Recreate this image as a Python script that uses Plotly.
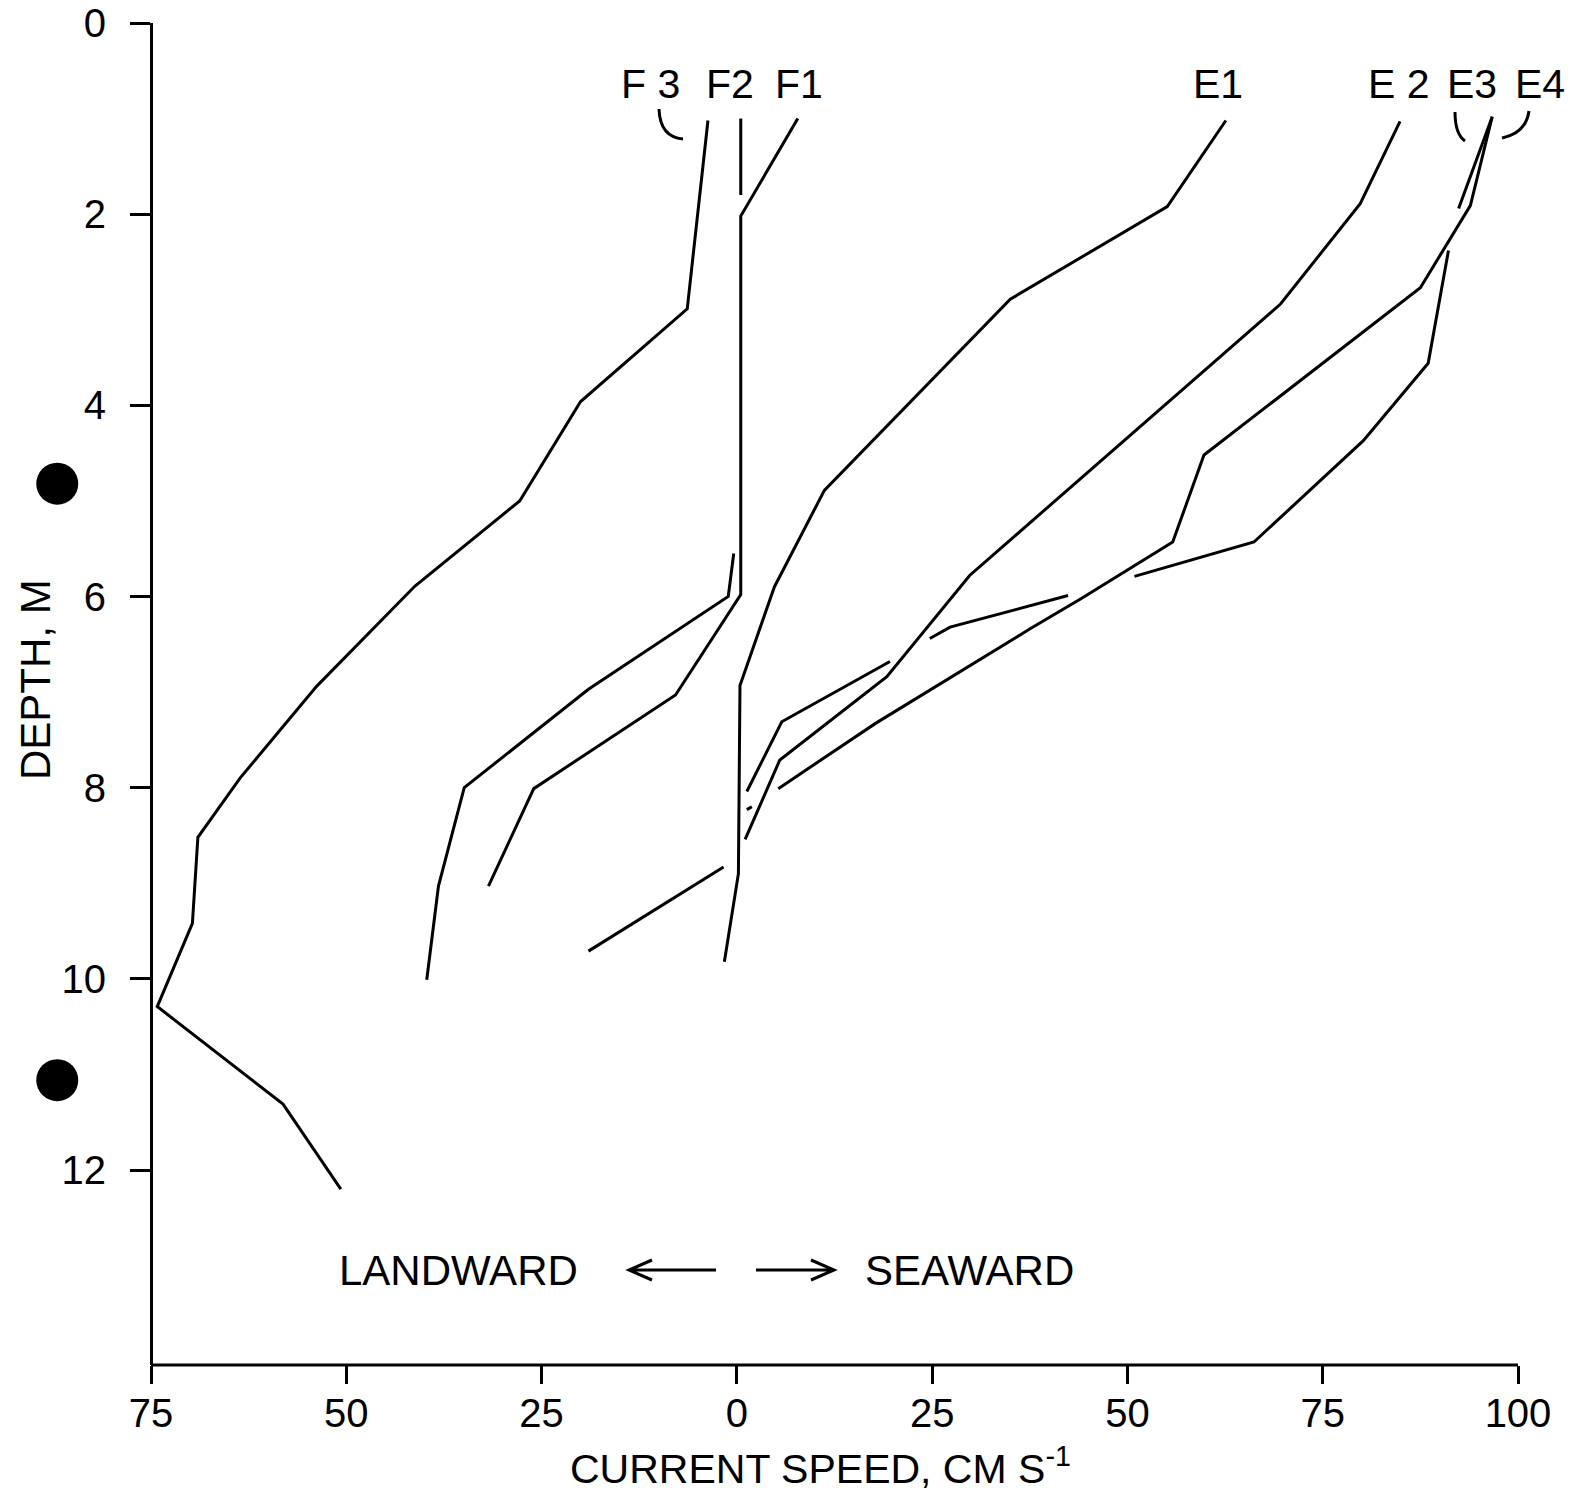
import plotly.graph_objects as go

# ---- data: current speed (cm/s; negative = landward) vs depth (m) ----
f1_speed = [7.8, 0.5, 0.5, -7.85, -26.0, -31.8]
f1_depth = [1.0, 2.02, 5.98, 7.03, 8.01, 9.03]

f2_speed = [0.5, 0.5, None, -0.4, -1.1, -19.0, -34.9, -38.2, -39.7]
f2_depth = [1.0, 1.8, None, 5.55, 6.0, 6.97, 8.0, 9.03, 10.01]

f3_speed = [-3.7, -6.35, -20.0, -27.8, -41.2, -53.8, -63.6, -69.0, -69.7, -74.2, -58.1, -50.7]
f3_depth = [1.02, 2.99, 3.96, 5.0, 5.89, 6.94, 7.90, 8.52, 9.42, 10.29, 11.31, 12.2]

e1_speed = [62.6, 55.1, 35.0, 11.2, 4.8, 0.4, 0.2, -1.6]
e1_depth = [1.02, 1.92, 2.89, 4.89, 5.9, 6.93, 8.9, 9.82]

e2_speed = [84.9, 79.8, 69.6, 29.8, 19.2, 5.5, 1.06, None, -1.7, -19.0]
e2_depth = [1.03, 1.89, 2.94, 5.78, 6.84, 7.71, 8.54, None, 8.83, 9.71]

e3_speed = [96.7, 92.4, None, 91.1, 88.5, 80.2, 66.2, 50.9, None, 42.4, 27.3, 24.7,
            None, 19.6, 5.75, 1.28, None, 1.28, 1.92]
e3_depth = [0.98, 1.94, None, 2.38, 3.56, 4.37, 5.43, 5.79, None, 5.99, 6.32, 6.44,
            None, 6.68, 7.31, 8.04, None, 8.23, 8.20]

e4_speed = [96.7, 93.9, 87.5, 59.8, 55.8, 44.1, 37.7, 17.7, 5.3]
e4_depth = [0.98, 1.91, 2.77, 4.52, 5.43, 6.02, 6.33, 7.33, 8.01]

dot_speed = [-87.0, -87.0]
dot_depth = [4.82, 11.06]

x_tickvals = [-75, -50, -25, 0, 25, 50, 75, 100]
x_ticktext = ["75", "50", "25", "0", "25", "50", "75", "100"]
y_tickvals = [0, 2, 4, 6, 8, 10, 12]

series = [
    ("F1", f1_speed, f1_depth),
    ("F2", f2_speed, f2_depth),
    ("F3", f3_speed, f3_depth),
    ("E1", e1_speed, e1_depth),
    ("E2", e2_speed, e2_depth),
    ("E3", e3_speed, e3_depth),
    ("E4", e4_speed, e4_depth),
]

FONT = "Liberation Sans, Arial, sans-serif"
OFF = 8                      # page body margin added by the browser
W, H = 1578 - OFF, 1496 - OFF
AX_L, AX_R, AX_T, AX_B = 151, 1518, 23, 1365     # axis box in page pixels
L, T = 20, AX_T - OFF
R = W - (AX_R - OFF)
B = H - (AX_B - OFF)
PW, PH = W - L - R, H - T - B
XMIN, XMAX = -75, 100
scale = (AX_R - AX_L) / (XMAX - XMIN)
dom0 = (AX_L - OFF - L) / PW
xlo = XMIN - (AX_L - OFF - L) / scale


def px(xp):
    return (xp - OFF - L) / PW


def py(yp):
    return (H - B - (yp - OFF)) / PH


fig = go.Figure()
for name, xs, ys in series:
    fig.add_trace(go.Scatter(x=xs, y=ys, mode="lines", name=name,
                             line=dict(color="black", width=3),
                             connectgaps=False, cliponaxis=False))

fig.add_trace(go.Scatter(x=dot_speed, y=dot_depth, mode="markers", name="dots",
                         marker=dict(color="black", size=42), cliponaxis=False))

fig.update_layout(
    width=W, height=H,
    margin=dict(l=L, r=R, t=T, b=B, autoexpand=False),
    plot_bgcolor="white", paper_bgcolor="white",
    showlegend=False,
    font=dict(family=FONT, size=40, color="black"),
    xaxis=dict(range=[xlo, XMAX], tickvals=x_tickvals,
               ticktext=x_ticktext, ticks="outside", ticklen=18, tickwidth=3,
               tickcolor="black", showline=False, ticklabeloverflow="allow",
               automargin=False, showgrid=False, zeroline=False,
               ticklabelstandoff=-5, tickfont=dict(size=40)),
    yaxis=dict(range=[14.04, 0], tickvals=y_tickvals, anchor="free", position=dom0,
               ticks="outside", ticklen=20, tickwidth=3, tickcolor="black",
               showline=True, linewidth=3, linecolor="black", automargin=False,
               showgrid=False, zeroline=False, ticklabelstandoff=16,
               ticklabeloverflow="allow", tickfont=dict(size=40)),
)

ann = []
labels = [("F 3", 650), ("F2", 730), ("F1", 799), ("E1", 1218),
          ("E 2", 1399), ("E3", 1472), ("E4", 1540)]
for txt, xp in labels:
    ann.append(dict(text=txt, xref="paper", yref="paper", x=px(xp), y=py(84),
                    xanchor="center", yanchor="middle", showarrow=False,
                    font=dict(size=41)))

ann.append(dict(text="LANDWARD", xref="paper", yref="paper", x=px(458), y=py(1270),
                xanchor="center", yanchor="middle", showarrow=False, font=dict(size=42)))
ann.append(dict(text="SEAWARD", xref="paper", yref="paper", x=px(970), y=py(1270),
                xanchor="center", yanchor="middle", showarrow=False, font=dict(size=42)))
ann.append(dict(text="DEPTH, M", xref="paper", yref="paper", x=px(35), y=py(680),
                textangle=-90, xanchor="center", yanchor="middle", showarrow=False,
                font=dict(size=42)))
ann.append(dict(text="CURRENT SPEED, CM S<sup>-1</sup>", xref="paper", yref="paper",
                x=px(820), y=py(1494), xanchor="center", yanchor="bottom",
                showarrow=False, font=dict(size=41)))
fig.update_layout(annotations=ann)


def pth(d):
    return dict(type="path", xref="paper", yref="paper", path=d,
                line=dict(color="black", width=3))


def arc(p0, c, p1):
    return pth(f"M {px(p0[0])},{py(p0[1])} Q {px(c[0])},{py(c[1])} {px(p1[0])},{py(p1[1])}")


def arrow(x_tail, x_head, y, hx, hy):
    d = 1 if x_head > x_tail else -1
    return pth(f"M {px(x_tail)},{py(y)} L {px(x_head)},{py(y)} "
               f"M {px(x_head - d * hx)},{py(y - hy)} L {px(x_head)},{py(y)} "
               f"L {px(x_head - d * hx)},{py(y + hy)}")


fig.update_layout(shapes=[
    # x-axis baseline (from 75 landward to 100 seaward)
    dict(type="line", xref="paper", yref="paper", x0=dom0, x1=1, y0=0, y1=0,
         line=dict(color="black", width=3)),
    arc((659, 109), (660, 137), (683, 139)),
    arc((1455, 112), (1455, 134), (1465, 141)),
    arc((1529, 111), (1526, 133), (1502, 138)),
    arrow(716, 629, 1270, 23, 10),
    arrow(756, 834, 1270, 23, 10),
])

fig.write_html("out.html")
